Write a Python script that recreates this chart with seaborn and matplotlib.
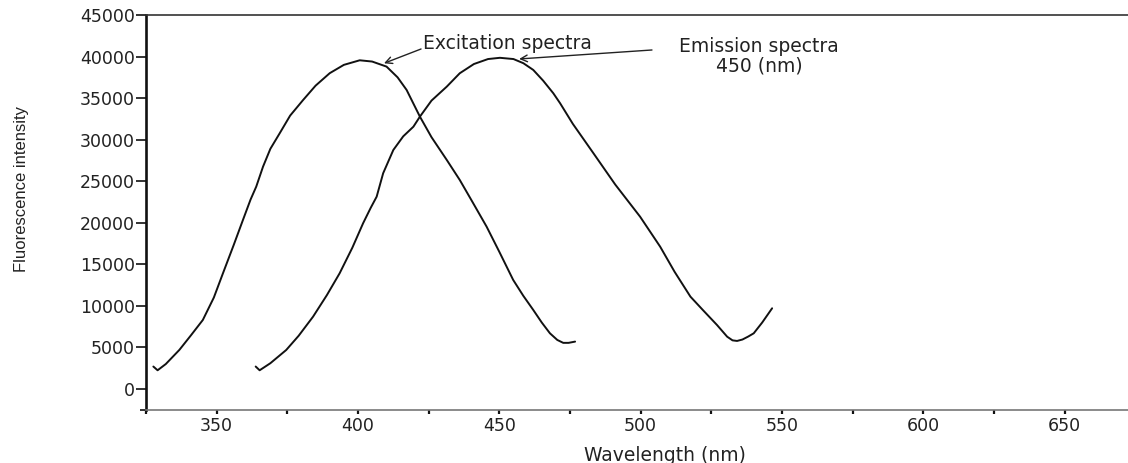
import matplotlib
matplotlib.use("Agg")
import matplotlib.pyplot as plt
from matplotlib import font_manager
from matplotlib.ticker import FixedLocator
import seaborn as sns
import pandas as pd

# ---- data ----
exc_wavelength = [327.6, 329.1, 332.0, 336.8, 341.0, 345.1, 349.0, 352.2, 356.0, 359.3,
                  362.0, 364.0, 366.4, 369.0, 372.3, 376.0, 380.6, 385.0, 390.0, 395.0,
                  400.6, 405.0, 410.1, 414.0, 417.2, 421.9, 426.0, 431.4, 436.0, 440.5,
                  445.5, 450.0, 454.9, 458.5, 462.0, 465.0, 467.9, 470.5, 472.6, 474.5, 476.8]
exc_intensity = [2700, 2250, 3000, 4700, 6500, 8300, 11000, 13900, 17300, 20340,
                 22800, 24350, 26750, 28900, 30770, 32900, 34780, 36500, 38000, 39000,
                 39550, 39400, 38790, 37500, 35980, 32770, 30300, 27560, 25150, 22500,
                 19530, 16500, 13120, 11200, 9510, 8000, 6700, 5900, 5550, 5550, 5700]

em_wavelength = [363.8, 365.2, 369.0, 374.6, 379.0, 384.1, 389.0, 393.5, 398.0, 401.8,
                 404.5, 406.6, 408.9, 412.5, 416.0, 419.6, 421.9, 426.0, 431.4, 436.0,
                 441.0, 446.0, 450.2, 455.0, 458.5, 462.0, 465.5, 469.1, 471.5, 476.0,
                 483.3, 491.0, 499.8, 506.9, 512.0, 517.6, 522.0, 527.0, 530.6, 532.5,
                 534.1, 536.0, 538.0, 540.0, 543.0, 546.5]
em_intensity = [2700, 2250, 3100, 4690, 6400, 8700, 11300, 13920, 17000, 19940,
                21800, 23140, 25960, 28760, 30400, 31560, 32770, 34700, 36380, 37990,
                39100, 39700, 39850, 39700, 39200, 38390, 37100, 35580, 34380, 31900,
                28360, 24600, 20730, 17120, 14100, 11110, 9500, 7700, 6290, 5850,
                5780, 5950, 6300, 6700, 8000, 9710]

y_ticks = [0, 5000, 10000, 15000, 20000, 25000, 30000, 35000, 40000, 45000]
x_ticks = [350, 400, 450, 500, 550, 600, 650]
x_minor_ticks = [325, 375, 425, 475, 525, 575, 625, 675]

exc_label = "Excitation spectra"
em_label = "Emission spectra\n450 (nm)"
x_title = "Wavelength (nm)"
y_title = "Fluorescence intensity"

# ---- styling ----
sns.set_style("white")
plt.rcParams["font.family"] = ["DejaVu Sans"]
available = {f.name for f in font_manager.fontManager.ttflist}
narrow = "Liberation Sans Narrow" if "Liberation Sans Narrow" in available else "Liberation Sans"

df = pd.concat([
    pd.DataFrame({"wavelength": exc_wavelength, "intensity": exc_intensity, "spectrum": "exc"}),
    pd.DataFrame({"wavelength": em_wavelength, "intensity": em_intensity, "spectrum": "em"}),
])

fig = plt.figure(figsize=(11.28, 4.63), dpi=100)
ax = fig.add_axes([146 / 1128, 53 / 463, 982 / 1128, 395 / 463])

sns.lineplot(data=df, x="wavelength", y="intensity", units="spectrum", estimator=None,
             sort=False, color="#111111", linewidth=1.4, ax=ax, legend=False)
for ln in ax.lines:
    ln.set_solid_joinstyle("round")

ax.set_xlim(325, 325 + 982 / 2.8267)
ax.set_ylim(-2530, 45000)

ax.xaxis.set_major_locator(FixedLocator(x_ticks))
ax.xaxis.set_minor_locator(FixedLocator(x_minor_ticks))
ax.yaxis.set_major_locator(FixedLocator(y_ticks))
ax.yaxis.set_minor_locator(FixedLocator([-2530]))

ax.tick_params(axis="y", which="major", direction="out", length=7, width=1.2,
               color="#111111", labelsize=12.5, labelcolor="#222222", pad=1, left=True)
ax.tick_params(axis="y", which="minor", direction="out", length=4, width=1.2,
               color="#111111", left=True)
ax.tick_params(axis="x", which="both", direction="out", length=3, width=1.6,
               color="#111111", labelsize=12.5, labelcolor="#222222", pad=2, bottom=True)

ax.spines["left"].set_visible(True)
ax.spines["bottom"].set_visible(True)
ax.spines["top"].set_visible(True)
ax.spines["right"].set_visible(False)
ax.spines["left"].set_linewidth(1.9)
ax.spines["left"].set_color("#111111")
ax.spines["bottom"].set_linewidth(1.2)
ax.spines["bottom"].set_color("#777777")
ax.spines["top"].set_linewidth(1.2)
ax.spines["top"].set_color("#333333")

ax.set_xlabel(x_title, fontsize=13.5, color="#222222")
ax.xaxis.label.set_va("center")
ax.xaxis.set_label_coords(0.5285, -0.114)
ax.set_ylabel(y_title, fontsize=12, family=[narrow, "DejaVu Sans"], color="#222222")
ax.yaxis.label.set_va("center")
ax.yaxis.set_label_coords(-0.1263, 0.5595)

# annotations
ax.text(452.7, 41630, exc_label, ha="center", va="center", fontsize=13.5, color="#222222")
ax.text(541.9, 40010, em_label, ha="center", va="center", fontsize=13.5, color="#222222",
        multialignment="center", linespacing=1.0)
arrow_kw = dict(arrowstyle="->", lw=1.0, color="#222222", shrinkA=0, shrinkB=0,
                mutation_scale=12)
ax.annotate("", xy=(409.2, 39190), xytext=(422.3, 40910), arrowprops=arrow_kw)
ax.annotate("", xy=(457.0, 39710), xytext=(504.0, 40790), arrowprops=arrow_kw)

fig.savefig("out.png", dpi=100)
